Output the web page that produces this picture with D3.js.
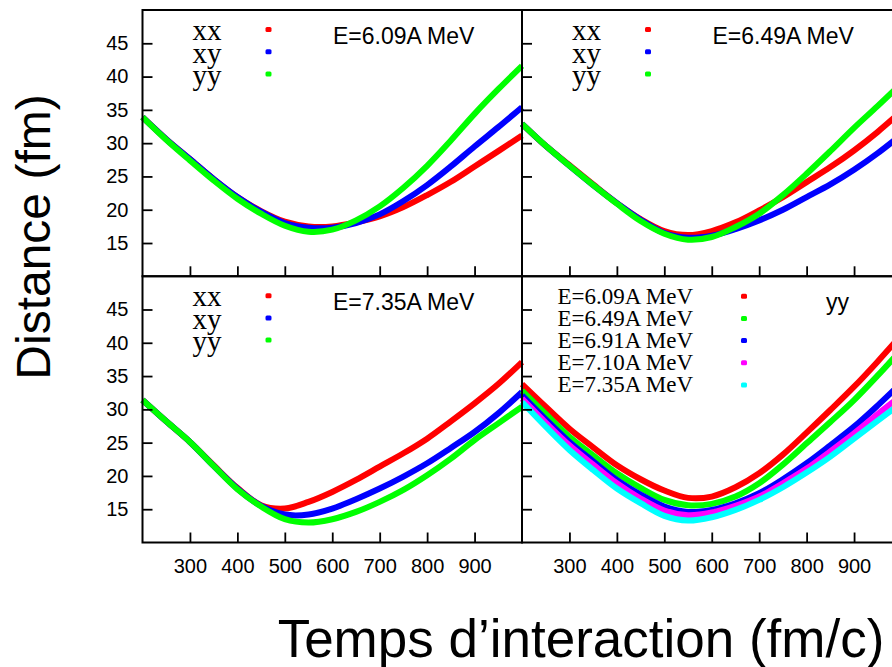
<!DOCTYPE html>
<html>
<head>
<meta charset="utf-8">
<script src="https://cdn.jsdelivr.net/npm/d3@7"></script>
<style>
  html, body { margin: 0; padding: 0; background: #fff; }
  svg { display: block; }
  .sans { font-family: "Liberation Sans", Arial, Helvetica, sans-serif; }
  .serif { font-family: "Liberation Serif", "Times New Roman", Times, serif; }
</style>
</head>
<body>
<svg id="chart" width="892" height="667"></svg>
<script>
// ---------------- data ----------------
const times = [200, 250, 300, 350, 400, 450, 500, 550, 600, 650, 700, 750, 800, 850, 900, 950, 1000];
const xTickValues = [300, 400, 500, 600, 700, 800, 900];
const yTickValues = [15, 20, 25, 30, 35, 40, 45];

const tensorLabels = ["xx", "xy", "yy"];
const energyLabels = ["E=6.09A MeV", "E=6.49A MeV", "E=6.91A MeV", "E=7.10A MeV", "E=7.35A MeV"];
const panelTitles = ["E=6.09A MeV", "E=6.49A MeV", "E=7.35A MeV", "yy"];

const xAxisTitle = "Temps d’interaction (fm/c)";
const yAxisTitle = "Distance (fm)";

// E = 6.09A MeV
const e609_xx = [33.9, 30.6, 27.6, 24.6, 21.9, 19.8, 18.2, 17.5, 17.5, 18.1, 19.0, 20.4, 22.2, 24.2, 26.5, 28.8, 31.15];
const e609_xy = [33.9, 30.6, 27.6, 24.6, 21.9, 19.7, 18.0, 17.3, 17.3, 18.0, 19.3, 21.3, 23.7, 26.5, 29.5, 32.4, 35.4];
const e609_yy = [33.9, 30.5, 27.4, 24.4, 21.65, 19.4, 17.6, 16.7, 17.0, 18.4, 20.5, 23.3, 26.6, 30.4, 34.4, 38.1, 41.6];
// E = 6.49A MeV
const e649_xx = [32.9, 29.6, 26.7, 23.8, 21.0, 18.6, 16.8, 16.2, 16.8, 18.1, 19.9, 21.9, 24.15, 26.4, 28.9, 31.7, 34.8];
const e649_xy = [32.9, 29.6, 26.6, 23.7, 21.0, 18.5, 16.5, 15.8, 16.1, 17.1, 18.4, 20.0, 21.9, 23.8, 26.0, 28.5, 31.3];
const e649_yy = [32.9, 29.6, 26.6, 23.7, 20.9, 18.3, 16.4, 15.5, 15.9, 17.4, 19.4, 22.2, 25.4, 28.8, 32.3, 35.6, 39.0];
// E = 7.35A MeV
const e735_xx = [31.4, 28.2, 25.1, 21.6, 18.2, 15.6, 15.1, 16.1, 17.6, 19.4, 21.4, 23.4, 25.6, 28.2, 30.9, 33.8, 37.1];
const e735_xy = [31.4, 28.2, 25.1, 21.5, 18.1, 15.5, 14.2, 14.2, 15.1, 16.5, 18.1, 19.9, 21.9, 24.2, 26.6, 29.4, 32.6];
const e735_yy = [31.4, 28.2, 25.1, 21.5, 18.0, 15.4, 13.5, 13.0, 13.5, 14.6, 16.1, 17.9, 20.1, 22.6, 25.4, 27.9, 30.4];
// yy component for all energies (bottom-right panel)
const yy_609 = [33.8, 30.4, 27.1, 24.3, 21.6, 19.5, 17.8, 16.7, 16.9, 18.3, 20.4, 23.2, 26.5, 29.9, 33.4, 37.2, 41.2];
const yy_649 = [32.8, 29.3, 25.9, 23.1, 20.4, 18.2, 16.4, 15.6, 15.8, 16.9, 18.9, 21.7, 24.9, 28.1, 31.4, 35.1, 39.0];
const yy_691 = [32.1, 28.5, 25.1, 22.2, 19.4, 17.2, 15.4, 14.6, 14.9, 15.9, 17.4, 19.5, 21.9, 24.6, 27.4, 30.6, 34.0];
const yy_710 = [31.6, 28.0, 24.6, 21.7, 18.9, 16.6, 14.8, 14.1, 14.5, 15.5, 16.9, 18.9, 21.1, 23.7, 26.4, 29.3, 32.1];
const yy_735 = [31.1, 27.4, 23.9, 20.9, 18.1, 15.9, 14.0, 13.3, 13.8, 14.9, 16.4, 18.3, 20.5, 22.9, 25.6, 28.3, 31.0];

const tensorColors = ["#ff0000", "#0000ff", "#00ff00"];
const energyColors = ["#ff0000", "#00ff00", "#0000ff", "#ff00ff", "#00ffff"];

// ---------------- layout ----------------
const svg = d3.select("#chart");
svg.append("rect").attr("width", 892).attr("height", 667).attr("fill", "#fff");

const PW = 379.5, PH = 266.3;
const X0 = [142.5, 522], Y0 = [10, 276.2];

const panels = [
  { col: 0, row: 0, series: [e609_xx, e609_xy, e609_yy], colors: tensorColors, labels: tensorLabels, title: panelTitles[0], kind: "tensor" },
  { col: 1, row: 0, series: [e649_xx, e649_xy, e649_yy], colors: tensorColors, labels: tensorLabels, title: panelTitles[1], kind: "tensor" },
  { col: 0, row: 1, series: [e735_xx, e735_xy, e735_yy], colors: tensorColors, labels: tensorLabels, title: panelTitles[2], kind: "tensor" },
  { col: 1, row: 1, series: [yy_609, yy_649, yy_691, yy_710, yy_735], colors: energyColors, labels: energyLabels, title: panelTitles[3], kind: "energy" }
];

panels.forEach(p => {
  const x0 = X0[p.col], y0 = Y0[p.row];
  const x = d3.scaleLinear().domain([200, 1000]).range([x0, x0 + PW]);
  const y = d3.scaleLinear().domain([10, 50]).range([y0 + PH, y0]);
  const g = svg.append("g");

  // curves
  const line = d3.line()
    .x((d, i) => x(times[i]))
    .y(d => y(d))
    .curve(d3.curveCatmullRom.alpha(0.5));
  p.series.forEach((s, i) => {
    g.append("path")
      .attr("d", line(s))
      .attr("fill", "none")
      .attr("stroke", p.colors[i])
      .attr("stroke-width", 6);
  });

  // axes
  const ya = d3.axisLeft(y).tickValues(yTickValues).tickSize(-10).tickPadding(14)
    .tickFormat(p.col === 0 ? d3.format("d") : () => "");
  const yg = g.append("g").attr("transform", `translate(${x0},0)`).call(ya);
  const xa = d3.axisBottom(x).tickValues(xTickValues).tickSize(-10).tickPadding(16)
    .tickFormat(p.row === 1 ? d3.format("d") : () => "");
  const xg = g.append("g").attr("transform", `translate(0,${y0 + PH})`).call(xa);
  [yg, xg].forEach(a => {
    a.select(".domain").remove();
    a.selectAll(".tick line").attr("stroke", "#000").attr("stroke-width", 1.8);
    a.selectAll(".tick text").attr("class", "sans").attr("font-size", 20).attr("fill", "#000");
  });

  // frame
  g.append("rect")
    .attr("x", x0).attr("y", y0).attr("width", PW).attr("height", PH)
    .attr("fill", "none").attr("stroke", "#000").attr("stroke-width", 2);

  // legends
  if (p.kind === "tensor") {
    p.labels.forEach((lab, i) => {
      g.append("text").attr("class", "serif")
        .attr("x", x0 + 50).attr("y", y0 + 30 + i * 22.6)
        .attr("font-size", 29).attr("fill", "#000").text(lab);
      g.append("rect")
        .attr("x", x0 + 126 - 3).attr("y", y0 + 19.5 + i * 22.2 - 2.5)
        .attr("width", 6).attr("height", 5).attr("rx", 1.5)
        .attr("fill", p.colors[i]);
    });
    g.append("text").attr("class", "sans")
      .attr("x", x0 + 190.5).attr("y", y0 + 34)
      .attr("font-size", 23).attr("fill", "#000").text(p.title);
  } else {
    p.labels.forEach((lab, i) => {
      g.append("text").attr("class", "serif")
        .attr("x", x0 + 35.5).attr("y", y0 + 27.3 + i * 22.1)
        .attr("font-size", 23).attr("fill", "#000").text(lab);
      g.append("rect")
        .attr("x", x0 + 222 - 3).attr("y", y0 + 20 + i * 22.2 - 2.5)
        .attr("width", 6).attr("height", 5).attr("rx", 1.5)
        .attr("fill", p.colors[i]);
    });
    g.append("text").attr("class", "sans")
      .attr("x", x0 + 304).attr("y", y0 + 34)
      .attr("font-size", 23).attr("fill", "#000").text(p.title);
  }
});

// axis titles
svg.append("text").attr("class", "sans")
  .attr("x", 581).attr("y", 657)
  .attr("text-anchor", "middle").attr("font-size", 53).attr("fill", "#000")
  .text(xAxisTitle);
svg.append("text").attr("class", "sans")
  .attr("transform", "translate(50,237) rotate(-90)")
  .attr("text-anchor", "middle").attr("font-size", 48).attr("fill", "#000")
  .text(yAxisTitle);
</script>
</body>
</html>
